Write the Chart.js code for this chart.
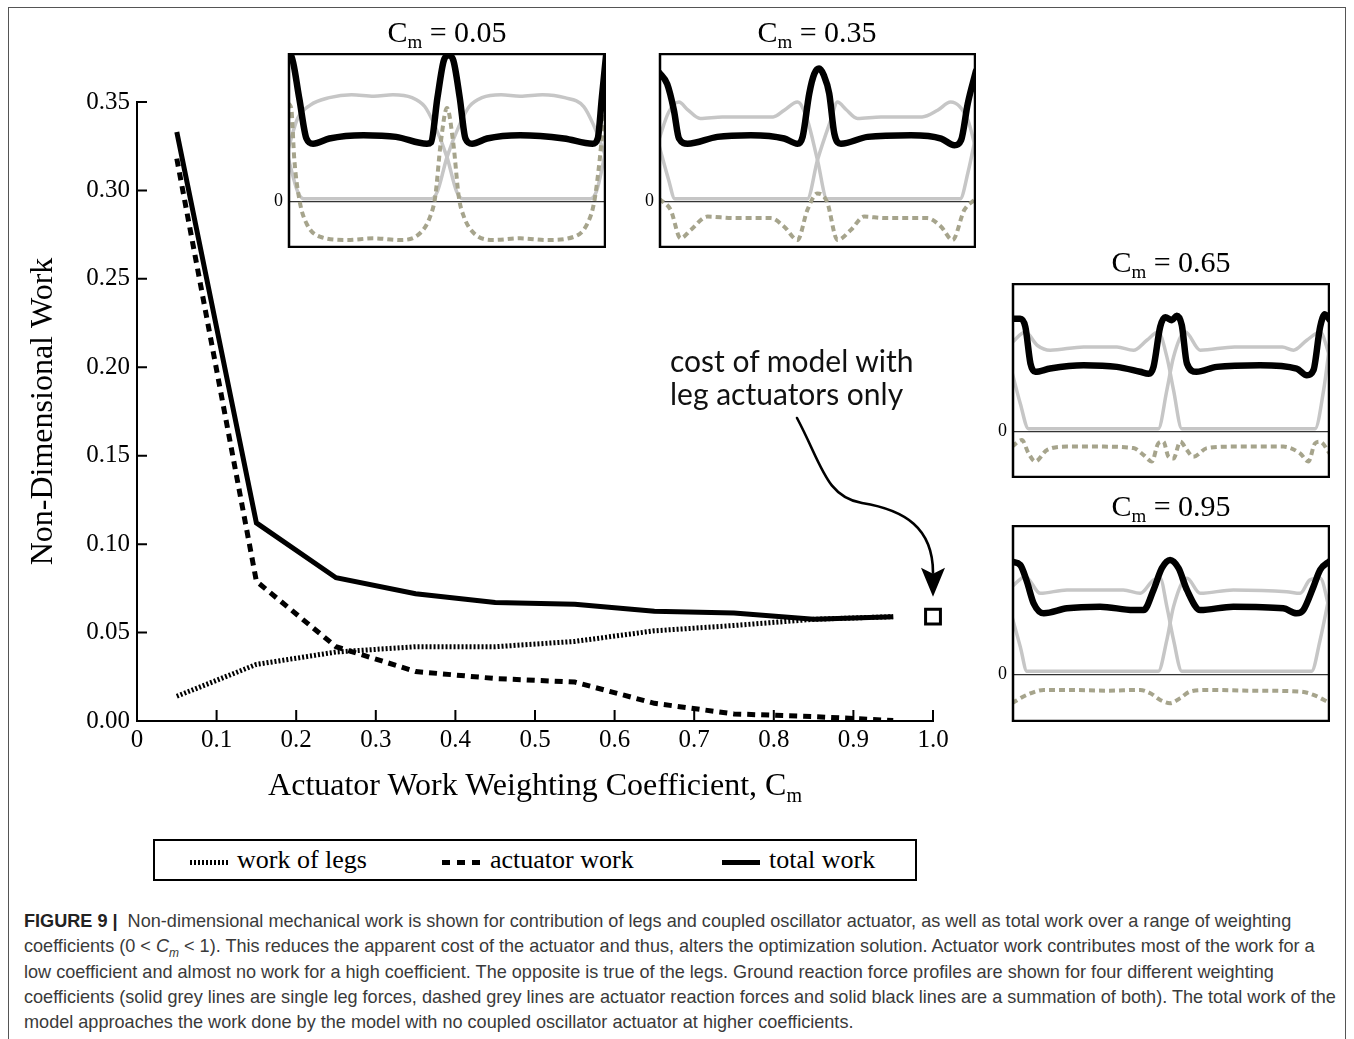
<!DOCTYPE html>
<html>
<head>
<meta charset="utf-8">
<script src="https://cdn.jsdelivr.net/npm/chart.js@4.4.0/dist/chart.umd.min.js"></script>
<style>
    body { margin: 0; background: #fff; }
    #page { position: relative; width: 1354px; height: 1039px; overflow: hidden; font-family: 'Liberation Serif', serif; }
    .abs { position: absolute; }
    #frame { left: 8px; top: 7px; width: 1336px; height: 1100px; border: 1.5px solid #555; }
    .ititle { font-size: 30px; text-align: center; width: 200px; line-height: 34px; color: #000; white-space: nowrap; }
    .ititle sub { font-size: 19px; vertical-align: -6px; line-height: 0; }
    #xtitle { left: 137px; width: 796px; top: 766px; text-align: center; font-size: 32px; white-space: nowrap; }
    #xtitle sub { font-size: 20px; vertical-align: -7px; line-height: 0; }
    #note { left: 670px; top: 344px; font-family: Lato, sans-serif; font-size: 30px; line-height: 33px; color: #111; white-space: nowrap; }
    #legend { left: 153px; top: 839px; width: 764px; height: 42px; box-sizing: border-box; border: 2px solid #000; }
    .ltext { font-size: 26px; top: 4px; white-space: nowrap; }
    .lsample { top: 19px; height: 5px; }
    #caption { left: 24px; top: 909px; font-family: 'Liberation Sans', Arial, sans-serif; font-size: 18.1px; line-height: 25.3px; color: #3a3a3a; white-space: nowrap; }
    #caption sub { font-size: 12px; line-height: 0; }
    #caption b { color: #222; }
</style>
</head>
<body>
<div id="page">
    <div id="frame" class="abs"></div>
    <canvas id="mainChart" class="abs" style="left:0;top:0;" width="1000" height="830"></canvas>

    <canvas id="inset1" class="abs" style="left:266px;top:53px;" width="340" height="195"></canvas>
    <canvas id="inset2" class="abs" style="left:637px;top:53px;" width="339" height="195"></canvas>
    <canvas id="inset3" class="abs" style="left:990px;top:283px;" width="340" height="195"></canvas>
    <canvas id="inset4" class="abs" style="left:990px;top:525px;" width="340" height="197"></canvas>

    <div class="abs ititle" style="left:347px;top:15px;">C<sub>m</sub> = 0.05</div>
    <div class="abs ititle" style="left:717px;top:15px;">C<sub>m</sub> = 0.35</div>
    <div class="abs ititle" style="left:1071px;top:245px;">C<sub>m</sub> = 0.65</div>
    <div class="abs ititle" style="left:1071px;top:489px;">C<sub>m</sub> = 0.95</div>

    <div id="xtitle" class="abs">Actuator Work Weighting Coefficient, C<sub>m</sub></div>
    <div id="note" class="abs">cost of model with<br>leg actuators only</div>

    <div id="legend" class="abs">
        <div class="abs lsample" style="left:35px;width:38px;background:repeating-linear-gradient(90deg,#000 0 2px,transparent 2px 4px);"></div>
        <div class="abs ltext" style="left:82px;">work of legs</div>
        <div class="abs lsample" style="left:287px;width:40px;background:repeating-linear-gradient(90deg,#000 0 8px,transparent 8px 15px);"></div>
        <div class="abs ltext" style="left:335px;">actuator work</div>
        <div class="abs lsample" style="left:567px;width:38px;background:#000;"></div>
        <div class="abs ltext" style="left:614px;">total work</div>
    </div>

    <div id="caption" class="abs"><b>FIGURE 9 |</b>&nbsp; Non-dimensional mechanical work is shown for contribution of legs and coupled oscillator actuator, as well as total work over a range of weighting<br>coefficients (0 &lt; <i>C<sub>m</sub></i> &lt; 1). This reduces the apparent cost of the actuator and thus, alters the optimization solution. Actuator work contributes most of the work for a<br>low coefficient and almost no work for a high coefficient. The opposite is true of the legs. Ground reaction force profiles are shown for four different weighting<br>coefficients (solid grey lines are single leg forces, dashed grey lines are actuator reaction forces and solid black lines are a summation of both). The total work of the<br>model approaches the work done by the model with no coupled oscillator actuator at higher coefficients.</div>
</div>

<script>
// main chart data
const cmValues = [0.05, 0.15, 0.25, 0.35, 0.45, 0.55, 0.65, 0.75, 0.85, 0.95];
const workLegs = [0.014, 0.032, 0.039, 0.042, 0.042, 0.045, 0.051, 0.054, 0.0575, 0.059];
const actuatorWork = [0.318, 0.079, 0.042, 0.028, 0.024, 0.022, 0.010, 0.004, 0.0025, 0.0003];
const totalWork = [0.333, 0.112, 0.081, 0.072, 0.067, 0.066, 0.062, 0.061, 0.0575, 0.059];
const legOnlyCost = [[1.0, 0.059]];

// ground reaction force profiles, [stride fraction, force]
const cm005Total = [[0,0.99],[0.01,0.98],[0.035,0.7],[0.058,0.425],[0.079,0.39],[0.13,0.425],[0.237,0.447],[0.34,0.436],[0.437,0.39],[0.45,0.4],[0.47,0.7],[0.49,0.95],[0.505,0.984],[0.52,0.95],[0.54,0.7],[0.558,0.425],[0.579,0.39],[0.626,0.425],[0.73,0.447],[0.868,0.425],[0.958,0.39],[0.974,0.425],[0.987,0.7],[1,0.98]];
const cm005LegA = [[0,0.35],[0.03,0.56],[0.07,0.65],[0.13,0.7],[0.2,0.72],[0.27,0.71],[0.33,0.72],[0.39,0.7],[0.43,0.64],[0.46,0.52],[0.5,0.3],[0.53,0.07],[0.55,0.02],[0.95,0.02],[0.97,0.07],[1,0.35]];
const cm005LegB = [[0,0.3],[0.03,0.07],[0.05,0.02],[0.45,0.02],[0.47,0.07],[0.5,0.3],[0.54,0.52],[0.57,0.64],[0.61,0.7],[0.67,0.72],[0.73,0.71],[0.8,0.72],[0.87,0.7],[0.93,0.64],[0.96,0.52],[1,0.3]];
const cm005Act = [[0,0.66],[0.01,0.63],[0.02,0.28],[0.037,0],[0.058,-0.145],[0.1,-0.235],[0.184,-0.257],[0.27,-0.246],[0.353,-0.257],[0.416,-0.21],[0.447,-0.1],[0.463,0.034],[0.48,0.39],[0.5,0.63],[0.52,0.39],[0.537,0.034],[0.553,-0.1],[0.584,-0.21],[0.647,-0.257],[0.73,-0.246],[0.816,-0.257],[0.9,-0.235],[0.942,-0.145],[0.963,0],[0.98,0.28],[0.995,0.63]];

const cm035Total = [[0,0.87],[0.026,0.79],[0.047,0.615],[0.063,0.425],[0.09,0.39],[0.184,0.436],[0.29,0.447],[0.395,0.425],[0.437,0.39],[0.453,0.436],[0.474,0.727],[0.49,0.86],[0.505,0.895],[0.52,0.85],[0.537,0.727],[0.553,0.459],[0.574,0.39],[0.658,0.436],[0.795,0.447],[0.89,0.425],[0.932,0.38],[0.953,0.414],[0.974,0.66],[1,0.88]];
const cm035LegA = [[0,0.42],[0.03,0.6],[0.063,0.67],[0.09,0.62],[0.13,0.56],[0.2,0.57],[0.3,0.57],[0.36,0.57],[0.395,0.615],[0.437,0.67],[0.468,0.55],[0.5,0.28],[0.53,0.02],[0.95,0.02],[0.975,0.2],[1,0.45]];
const cm035LegB = [[0,0.38],[0.03,0.15],[0.05,0.02],[0.468,0.02],[0.5,0.28],[0.542,0.55],[0.563,0.67],[0.59,0.62],[0.626,0.56],[0.7,0.57],[0.83,0.57],[0.879,0.615],[0.92,0.67],[0.974,0.55],[1,0.35]];
const cm035Act = [[0,0.02],[0.037,-0.056],[0.068,-0.246],[0.1,-0.19],[0.153,-0.1],[0.237,-0.11],[0.353,-0.11],[0.395,-0.168],[0.437,-0.257],[0.468,-0.056],[0.5,0.056],[0.53,0],[0.563,-0.257],[0.605,-0.19],[0.647,-0.1],[0.71,-0.11],[0.847,-0.11],[0.89,-0.168],[0.926,-0.257],[0.963,-0.056],[1,0.02]];

const cm065Total = [[0,0.76],[0.026,0.76],[0.042,0.705],[0.058,0.459],[0.073,0.403],[0.12,0.425],[0.225,0.447],[0.33,0.436],[0.403,0.403],[0.43,0.39],[0.445,0.436],[0.466,0.705],[0.482,0.77],[0.503,0.75],[0.518,0.78],[0.534,0.716],[0.55,0.459],[0.58,0.403],[0.644,0.436],[0.78,0.447],[0.895,0.425],[0.927,0.38],[0.948,0.414],[0.969,0.705],[0.984,0.79],[1,0.75]];
const cm065LegA = [[0,0.6],[0.042,0.67],[0.08,0.58],[0.12,0.548],[0.225,0.57],[0.33,0.57],[0.382,0.548],[0.424,0.615],[0.46,0.67],[0.487,0.503],[0.508,0.28],[0.534,0.02],[0.953,0.02],[0.98,0.28],[1,0.6]];
const cm065LegB = [[0,0.4],[0.026,0.19],[0.052,0.02],[0.46,0.02],[0.487,0.28],[0.508,0.503],[0.545,0.67],[0.592,0.548],[0.7,0.57],[0.85,0.57],[0.885,0.548],[0.927,0.615],[0.969,0.67],[1,0.5]];
const cm065Act = [[0,-0.1],[0.031,-0.056],[0.052,-0.145],[0.073,-0.2],[0.11,-0.123],[0.173,-0.1],[0.277,-0.1],[0.382,-0.11],[0.414,-0.157],[0.44,-0.2],[0.46,-0.078],[0.476,-0.067],[0.492,-0.168],[0.508,-0.18],[0.529,-0.067],[0.55,-0.123],[0.57,-0.168],[0.613,-0.11],[0.696,-0.1],[0.853,-0.1],[0.906,-0.145],[0.932,-0.2],[0.953,-0.078],[0.969,-0.067],[1,-0.15]];

const cm095Total = [[0,0.754],[0.026,0.732],[0.047,0.62],[0.068,0.475],[0.1,0.408],[0.173,0.442],[0.277,0.453],[0.382,0.43],[0.414,0.43],[0.445,0.565],[0.471,0.71],[0.497,0.766],[0.524,0.71],[0.55,0.565],[0.592,0.43],[0.696,0.453],[0.853,0.442],[0.895,0.408],[0.916,0.43],[0.948,0.587],[0.969,0.7],[1,0.76]];
const cm095LegA = [[0,0.587],[0.042,0.654],[0.089,0.542],[0.173,0.565],[0.35,0.565],[0.403,0.542],[0.445,0.632],[0.466,0.643],[0.487,0.453],[0.508,0.23],[0.534,0.02],[0.942,0.02],[0.969,0.23],[1,0.55]];
const cm095LegB = [[0,0.386],[0.026,0.185],[0.047,0.02],[0.46,0.02],[0.487,0.23],[0.508,0.453],[0.55,0.643],[0.592,0.542],[0.696,0.565],[0.864,0.553],[0.906,0.542],[0.937,0.632],[0.969,0.643],[1,0.42]];
const cm095Act = [[0,-0.194],[0.047,-0.138],[0.1,-0.105],[0.173,-0.105],[0.3,-0.11],[0.403,-0.105],[0.435,-0.127],[0.466,-0.172],[0.497,-0.194],[0.529,-0.16],[0.56,-0.116],[0.613,-0.105],[0.749,-0.11],[0.906,-0.116],[0.948,-0.138],[1,-0.194]];

const serif = "'Liberation Serif', 'Times New Roman', serif";
const toXY = arr => arr.map(p => ({ x: p[0], y: p[1] }));

// inward tick marks + the curved annotation arrow
const mainDecor = {
    id: 'mainDecor',
    afterDraw(chart) {
        const ctx = chart.ctx;
        const xs = chart.scales.x, ys = chart.scales.y;
        ctx.save();
        ctx.strokeStyle = '#000';
        ctx.lineWidth = 2;
        ctx.beginPath();
        xs.ticks.forEach(t => {
            if (t.value === 0) return;
            const px = xs.getPixelForValue(t.value);
            ctx.moveTo(px, ys.bottom);
            ctx.lineTo(px, ys.bottom - 11);
        });
        ys.ticks.forEach(t => {
            if (t.value === 0) return;
            const py = ys.getPixelForValue(t.value);
            ctx.moveTo(xs.left, py);
            ctx.lineTo(xs.left + 10, py);
        });
        ctx.stroke();

        // arrow pointing at the leg-only marker
        const tipX = xs.getPixelForValue(legOnlyCost[0][0]);
        const tipY = ys.getPixelForValue(legOnlyCost[0][1]) - 20;
        ctx.lineWidth = 2.6;
        ctx.lineCap = 'round';
        ctx.beginPath();
        ctx.moveTo(797, 418);
        ctx.bezierCurveTo(822, 465, 826, 497, 862, 503);
        ctx.bezierCurveTo(905, 510, tipX, 528, tipX, tipY - 24);
        ctx.stroke();
        ctx.fillStyle = '#000';
        ctx.beginPath();
        ctx.moveTo(tipX, tipY);
        ctx.lineTo(tipX - 12, tipY - 29);
        ctx.lineTo(tipX, tipY - 23);
        ctx.lineTo(tipX + 12, tipY - 29);
        ctx.closePath();
        ctx.fill();
        ctx.restore();
    }
};

new Chart(document.getElementById('mainChart'), {
    type: 'line',
    data: {
        datasets: [
            {
                label: 'total work',
                data: cmValues.map((c, i) => ({ x: c, y: totalWork[i] })),
                borderColor: '#000', borderWidth: 5, pointRadius: 0, tension: 0
            },
            {
                label: 'actuator work',
                data: cmValues.map((c, i) => ({ x: c, y: actuatorWork[i] })),
                borderColor: '#000', borderWidth: 5, borderDash: [8, 6], pointRadius: 0, tension: 0
            },
            {
                label: 'work of legs',
                data: cmValues.map((c, i) => ({ x: c, y: workLegs[i] })),
                borderColor: '#000', borderWidth: 5, borderDash: [2, 2], pointRadius: 0, tension: 0
            },
            {
                label: 'leg actuators only',
                data: toXY(legOnlyCost),
                showLine: false, clip: false,
                pointStyle: 'rect', pointRadius: 10.5, borderWidth: 3,
                pointBorderColor: '#000', pointBackgroundColor: '#fff'
            }
        ]
    },
    options: {
        responsive: false,
        animation: false,
        layout: { padding: { left: 0, top: 102, right: 67, bottom: 69 } },
        plugins: { legend: { display: false }, tooltip: { enabled: false } },
        scales: {
            x: {
                type: 'linear', min: 0, max: 1,
                grid: { display: false, drawTicks: false },
                border: { display: true, color: '#000', width: 2 },
                ticks: {
                    stepSize: 0.1, autoSkip: false, maxRotation: 0, padding: 4,
                    color: '#000', font: { family: serif, size: 25 },
                    callback: v => v === 0 ? '0' : v.toFixed(1)
                },
                afterFit: s => { s.height = 40; }
            },
            y: {
                min: 0, max: 0.35,
                grid: { display: false, drawTicks: false },
                border: { display: true, color: '#000', width: 2 },
                ticks: {
                    stepSize: 0.05, padding: 7,
                    color: '#000', font: { family: serif, size: 25 },
                    callback: v => v.toFixed(2)
                },
                title: {
                    display: true, text: 'Non-Dimensional Work', color: '#000',
                    font: { family: serif, size: 32 }, padding: { top: 24, bottom: 0 }
                },
                afterFit: s => { s.width = 137; }
            }
        }
    },
    plugins: [mainDecor]
});

// box around each inset plot
const insetFrame = {
    id: 'insetFrame',
    afterDraw(chart) {
        const a = chart.chartArea, ctx = chart.ctx;
        ctx.save();
        ctx.strokeStyle = '#000';
        ctx.lineWidth = 2.5;
        ctx.strokeRect(a.left + 1, a.top + 1, a.right - a.left - 2, a.bottom - a.top - 2);
        ctx.restore();
    }
};

function makeInset(id, total, legA, legB, act, yMin) {
    const grey = '#c6c6c6';
    new Chart(document.getElementById(id), {
        type: 'line',
        data: {
            datasets: [
                { data: toXY(total), borderColor: '#000', borderWidth: 6.5, borderJoinStyle: 'round', borderCapStyle: 'round', cubicInterpolationMode: 'monotone' },
                { data: toXY(act), borderColor: '#a6a48c', borderWidth: 4, borderDash: [6, 4], cubicInterpolationMode: 'monotone' },
                { data: toXY(legA), borderColor: grey, borderWidth: 3.5, cubicInterpolationMode: 'monotone' },
                { data: toXY(legB), borderColor: grey, borderWidth: 3.5, cubicInterpolationMode: 'monotone' }
            ]
        },
        options: {
            responsive: false,
            animation: false,
            elements: { point: { radius: 0 } },
            layout: { padding: 0 },
            plugins: { legend: { display: false }, tooltip: { enabled: false } },
            scales: {
                x: { type: 'linear', min: 0, max: 1, display: false },
                y: {
                    min: yMin, max: 1, z: 1,
                    afterBuildTicks: s => { s.ticks = [{ value: 0 }]; },
                    grid: { color: '#333', lineWidth: 1.2, drawTicks: false },
                    border: { display: false },
                    ticks: { padding: 5, color: '#000', font: { family: serif, size: 18 }, callback: () => '0' },
                    afterFit: s => { s.width = 22; s.paddingTop = 0; s.paddingBottom = 0; }
                }
            }
        },
        plugins: [insetFrame]
    });
}

makeInset('inset1', cm005Total, cm005LegA, cm005LegB, cm005Act, -0.311);
makeInset('inset2', cm035Total, cm035LegA, cm035LegB, cm035Act, -0.311);
makeInset('inset3', cm065Total, cm065LegA, cm065LegB, cm065Act, -0.311);
makeInset('inset4', cm095Total, cm095LegA, cm095LegB, cm095Act, -0.32);
</script>
</body>
</html>
